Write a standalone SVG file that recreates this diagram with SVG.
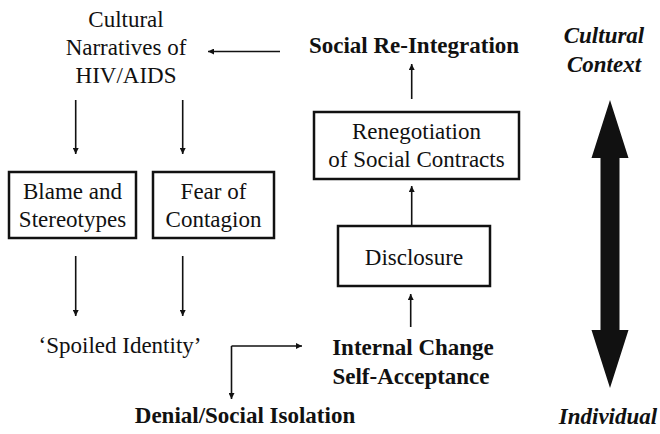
<svg xmlns="http://www.w3.org/2000/svg" width="660" height="434" viewBox="0 0 660 434" font-family="'Liberation Serif', 'Times New Roman', Times, 'DejaVu Serif', serif">
<style>
text{font-family:'Liberation Serif','Times New Roman',Times,'DejaVu Serif',serif;font-size:23px;fill:#111;text-anchor:middle}
.b{font-weight:bold}
.bi{font-weight:bold;font-style:italic}
.box{fill:#fff;stroke:#111;stroke-width:2.5}
.ln{fill:none;stroke:#111;stroke-width:1.6}
</style>
<defs>
<marker id="ah" viewBox="0 0 10 10" refX="10" refY="5" markerWidth="6" markerHeight="6" markerUnits="userSpaceOnUse" orient="auto">
<path d="M0,0 L10,5 L0,10 Z" fill="#111"/>
</marker>
</defs>
<rect width="660" height="434" fill="#fff"/>
<g id="connectors">
<line class="ln" x1="280" y1="51.5" x2="208" y2="51.5" marker-end="url(#ah)"/>
<line class="ln" x1="75.7" y1="100" x2="75.7" y2="154" marker-end="url(#ah)"/>
<line class="ln" x1="182.7" y1="100" x2="182.7" y2="154" marker-end="url(#ah)"/>
<line class="ln" x1="75.7" y1="256" x2="75.7" y2="316" marker-end="url(#ah)"/>
<line class="ln" x1="182.7" y1="256" x2="182.7" y2="316" marker-end="url(#ah)"/>
<polyline class="ln" points="231.5,346 302,346" marker-end="url(#ah)"/>
<polyline class="ln" points="231.5,346 231.5,399" marker-end="url(#ah)"/>
<line class="ln" x1="410.7" y1="327" x2="410.7" y2="294" marker-end="url(#ah)"/>
<line class="ln" x1="411.7" y1="225" x2="411.7" y2="186" marker-end="url(#ah)"/>
<line class="ln" x1="411.7" y1="99" x2="411.7" y2="64" marker-end="url(#ah)"/>
</g>
<g id="cultural-narratives">
<text x="126" y="27">Cultural</text>
<text x="126" y="55">Narratives of</text>
<text x="126" y="83">HIV/AIDS</text>
</g>
<g id="blame">
<rect class="box" x="9" y="172" width="127" height="66"/>
<text x="72.5" y="199">Blame and</text>
<text x="72.5" y="227">Stereotypes</text>
</g>
<g id="fear">
<rect class="box" x="153" y="172" width="121" height="66"/>
<text x="213.5" y="199">Fear of</text>
<text x="213.5" y="227">Contagion</text>
</g>
<g id="spoiled">
<text x="120" y="353">‘Spoiled Identity’</text>
</g>
<g id="denial">
<text class="b" x="245" y="423">Denial/Social Isolation</text>
</g>
<g id="internal">
<text class="b" x="413" y="355">Internal Change</text>
<text class="b" x="411" y="384">Self-Acceptance</text>
</g>
<g id="disclosure">
<rect class="box" x="338" y="226" width="152" height="60"/>
<text x="414" y="265">Disclosure</text>
</g>
<g id="renegotiation">
<rect class="box" x="314" y="112" width="205" height="67"/>
<text x="416.5" y="139">Renegotiation</text>
<text x="416.5" y="167">of Social Contracts</text>
</g>
<g id="reintegration">
<text class="b" x="414" y="53">Social Re-Integration</text>
</g>
<g id="context-axis">
<text class="bi" x="604" y="43">Cultural</text>
<text class="bi" x="604" y="72">Context</text>
<path d="M610,100 L628.5,158 L619.5,158 L619.5,330 L628.5,330 L610,388 L591.5,330 L600.5,330 L600.5,158 L591.5,158 Z" fill="#111"/>
<text class="bi" x="608" y="424">Individual</text>
</g>
</svg>
